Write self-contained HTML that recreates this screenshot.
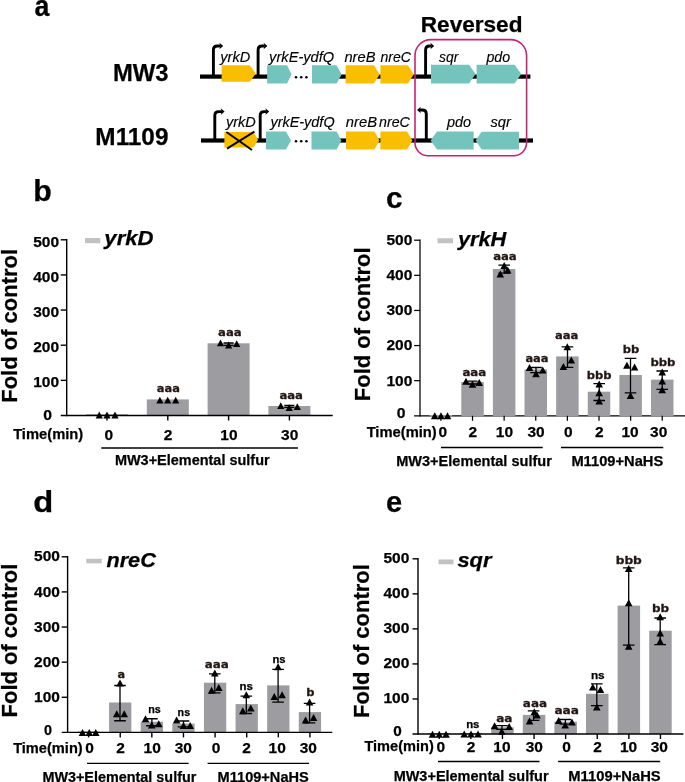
<!DOCTYPE html>
<html lang="en"><head><meta charset="utf-8"><title>Figure</title>
<style>
html,body{margin:0;padding:0;background:#fff;}
body{width:685px;height:782px;overflow:hidden;}
svg{display:block;}
text{font-family:"Liberation Sans", sans-serif;white-space:pre;}
.b{font-weight:bold;stroke:#000;stroke-width:0.25px;}
.i{font-style:italic;font-weight:normal;stroke:#000;stroke-width:0.15px;}
.bi{font-weight:bold;font-style:italic;stroke:#000;stroke-width:0.25px;}
.an{font-family:"DejaVu Sans", "Liberation Sans", sans-serif;font-weight:bold;stroke:#231815;stroke-width:0.3px;}
</style></head><body>
<svg width="685" height="782" viewBox="0 0 685 782">
<rect width="685" height="782" fill="#fff"/>
<rect x="200" y="74.5" width="70" height="4.2" fill="#000"/>
<rect x="330" y="74.5" width="200.4" height="4.2" fill="#000"/>
<path d="M213.4,75 L213.4,50.0 Q213.4,46 217.4,46 L220.6,46" fill="none" stroke="#000" stroke-width="2.9"/>
<polygon points="223.2,46 219.4,42.7 220.4,46 219.4,49.3" fill="#000"/>
<path d="M258.1,75 L258.1,50.0 Q258.1,46 262.1,46 L264.8,46" fill="none" stroke="#000" stroke-width="2.9"/>
<polygon points="267.4,46 263.6,42.7 264.6,46 263.6,49.3" fill="#000"/>
<path d="M425.6,75 L425.6,50.0 Q425.6,46 429.6,46 L431.6,46" fill="none" stroke="#000" stroke-width="2.9"/>
<polygon points="434.2,46 430.4,42.7 431.4,46 430.4,49.3" fill="#000"/>
<polygon points="221.6,65.2 249.8,65.2 255.8,73.5 249.8,81.8 221.6,81.8" fill="#FABE00"/>
<polygon points="267.1,65.2 287,65.2 291.6,74.4 287,83.6 267.1,83.6" fill="#73C4BC"/>
<polygon points="312,65.2 336.6,65.2 341.6,74.4 336.6,83.6 312,83.6" fill="#73C4BC"/>
<polygon points="345.6,65.2 374,65.2 379.6,74.4 374,83.6 345.6,83.6" fill="#FABE00"/>
<polygon points="380.4,65.2 408,65.2 413.6,74.4 408,83.6 380.4,83.6" fill="#FABE00"/>
<polygon points="431,64.8 469,64.8 475.6,74.1 469,83.4 431,83.4" fill="#73C4BC"/>
<polygon points="476.6,64.8 514.6,64.8 521.2,74.1 514.6,83.4 476.6,83.4" fill="#73C4BC"/>
<circle cx="296" cy="77.2" r="1.25" fill="#000"/>
<circle cx="301.2" cy="77.2" r="1.25" fill="#000"/>
<circle cx="306.4" cy="77.2" r="1.25" fill="#000"/>
<rect x="201" y="138.4" width="68" height="4.2" fill="#000"/>
<rect x="330" y="138.4" width="203" height="4.2" fill="#000"/>
<path d="M214.8,139 L214.8,115.6 Q214.8,111.6 218.8,111.6 L222.0,111.6" fill="none" stroke="#000" stroke-width="2.9"/>
<polygon points="224.6,111.6 220.8,108.3 221.8,111.6 220.8,114.89999999999999" fill="#000"/>
<path d="M260.2,139 L260.2,115.6 Q260.2,111.6 264.2,111.6 L266.6,111.6" fill="none" stroke="#000" stroke-width="2.9"/>
<polygon points="269.2,111.6 265.4,108.3 266.4,111.6 265.4,114.89999999999999" fill="#000"/>
<path d="M426.3,139 L426.3,114.0 Q426.3,110 422.3,110 L419.6,110" fill="none" stroke="#000" stroke-width="2.9"/>
<polygon points="417,110 420.8,106.7 419.8,110 420.8,113.3" fill="#000"/>
<polygon points="224.4,132 253.6,132 258,139.7 253.6,147.4 224.4,147.4" fill="#FABE00"/>
<polygon points="266,131.6 286,131.6 291,140.5 286,149.4 266,149.4" fill="#73C4BC"/>
<polygon points="311.5,131.6 336.6,131.6 341.4,140.5 336.6,149.4 311.5,149.4" fill="#73C4BC"/>
<polygon points="346,131.6 374.4,131.6 379.6,140.5 374.4,149.4 346,149.4" fill="#FABE00"/>
<polygon points="380.4,131.6 407,131.6 412.4,140.5 407,149.4 380.4,149.4" fill="#FABE00"/>
<polygon points="473.6,131.6 437,131.6 430.6,140.5 437,149.4 473.6,149.4" fill="#73C4BC"/>
<polygon points="519,131.8 481.6,131.8 475.6,140.60000000000002 481.6,149.4 519,149.4" fill="#73C4BC"/>
<circle cx="296" cy="141.2" r="1.25" fill="#000"/>
<circle cx="301.2" cy="141.2" r="1.25" fill="#000"/>
<circle cx="306.4" cy="141.2" r="1.25" fill="#000"/>
<path d="M226.4,132 L252,150 M254.4,131.6 L227,148.6" stroke="#000" stroke-width="1.9" fill="none"/>
<path d="M415,55.6 A16,16 0 0 1 431,39.6 H510.6 A16,16 0 0 1 526.6,55.6 V142.8 A13,13 0 0 1 513.6,155.8 H428 A13,13 0 0 1 415,142.8 Z" fill="none" stroke="#C32373" stroke-width="1.6"/>
<rect x="86.00" y="414.30" width="42.00" height="1.20" fill="#9D9DA1"/>
<rect x="146.80" y="399.40" width="42.00" height="16.10" fill="#9D9DA1"/>
<rect x="207.60" y="343.30" width="42.00" height="72.20" fill="#9D9DA1"/>
<rect x="268.40" y="406.00" width="42.00" height="9.50" fill="#9D9DA1"/>
<path d="M66.7,239.0 V416.2" stroke="#000" stroke-width="1.4" fill="none"/>
<path d="M60.75,415.5 H332.7" stroke="#000" stroke-width="1.4" fill="none"/>
<path d="M60.75,239.80 H66.7" stroke="#000" stroke-width="1.4" fill="none"/>
<path d="M60.75,274.94 H66.7" stroke="#000" stroke-width="1.4" fill="none"/>
<path d="M60.75,310.08 H66.7" stroke="#000" stroke-width="1.4" fill="none"/>
<path d="M60.75,345.22 H66.7" stroke="#000" stroke-width="1.4" fill="none"/>
<path d="M60.75,380.36 H66.7" stroke="#000" stroke-width="1.4" fill="none"/>
<path d="M107.00,415.5 V420.5" stroke="#000" stroke-width="1.4" fill="none"/>
<path d="M167.80,415.5 V420.5" stroke="#000" stroke-width="1.4" fill="none"/>
<path d="M228.60,415.5 V420.5" stroke="#000" stroke-width="1.4" fill="none"/>
<path d="M289.40,415.5 V420.5" stroke="#000" stroke-width="1.4" fill="none"/>
<path d="M101.25,448 H297.9" stroke="#000" stroke-width="1.3" fill="none"/>
<rect x="85" y="238" width="15.3" height="5.2" fill="#C2C2C2"/>
<polygon points="95.65,418.40 102.85,418.40 99.25,411.60" fill="#000"/>
<polygon points="103.40,418.40 110.60,418.40 107.00,411.60" fill="#000"/>
<polygon points="111.40,418.40 118.60,418.40 115.00,411.60" fill="#000"/>
<polygon points="156.30,403.60 163.50,403.60 159.90,396.80" fill="#000"/>
<polygon points="164.10,403.60 171.30,403.60 167.70,396.80" fill="#000"/>
<polygon points="172.10,403.60 179.30,403.60 175.70,396.80" fill="#000"/>
<path d="M223.60,343.00 H233.60 M223.60,345.40 H233.60" stroke="#000" stroke-width="1.3" fill="none"/>
<polygon points="216.90,346.20 224.10,346.20 220.50,339.40" fill="#000"/>
<polygon points="225.00,348.40 232.20,348.40 228.60,341.60" fill="#000"/>
<polygon points="233.10,347.00 240.30,347.00 236.70,340.20" fill="#000"/>
<path d="M284.30,405.40 H294.30 M284.30,407.40 H294.30" stroke="#000" stroke-width="1.3" fill="none"/>
<polygon points="277.20,409.00 284.40,409.00 280.80,402.20" fill="#000"/>
<polygon points="285.60,411.00 292.80,411.00 289.20,404.20" fill="#000"/>
<polygon points="293.70,410.00 300.90,410.00 297.30,403.20" fill="#000"/>
<path d="M420.0,239.39999999999998 V416.425" stroke="#000" stroke-width="1.25" fill="none"/>
<path d="M414.1,415.8 H685" stroke="#000" stroke-width="1.25" fill="none"/>
<rect x="429.65" y="415.00" width="22.50" height="1.43" fill="#9D9DA1"/>
<rect x="461.27" y="382.00" width="22.50" height="34.43" fill="#9D9DA1"/>
<rect x="492.89" y="269.00" width="22.50" height="147.43" fill="#9D9DA1"/>
<rect x="524.51" y="369.50" width="22.50" height="46.93" fill="#9D9DA1"/>
<rect x="556.13" y="356.40" width="22.50" height="60.03" fill="#9D9DA1"/>
<rect x="587.75" y="391.70" width="22.50" height="24.73" fill="#9D9DA1"/>
<rect x="619.37" y="375.00" width="22.50" height="41.43" fill="#9D9DA1"/>
<rect x="650.99" y="379.60" width="22.50" height="36.82" fill="#9D9DA1"/>
<path d="M414.1,240.20 H420.0" stroke="#000" stroke-width="1.25" fill="none"/>
<path d="M414.1,275.32 H420.0" stroke="#000" stroke-width="1.25" fill="none"/>
<path d="M414.1,310.44 H420.0" stroke="#000" stroke-width="1.25" fill="none"/>
<path d="M414.1,345.56 H420.0" stroke="#000" stroke-width="1.25" fill="none"/>
<path d="M414.1,380.68 H420.0" stroke="#000" stroke-width="1.25" fill="none"/>
<path d="M440.90,415.8 V420.8" stroke="#000" stroke-width="1.25" fill="none"/>
<path d="M472.52,415.8 V420.8" stroke="#000" stroke-width="1.25" fill="none"/>
<path d="M504.14,415.8 V420.8" stroke="#000" stroke-width="1.25" fill="none"/>
<path d="M535.76,415.8 V420.8" stroke="#000" stroke-width="1.25" fill="none"/>
<path d="M567.38,415.8 V420.8" stroke="#000" stroke-width="1.25" fill="none"/>
<path d="M599.00,415.8 V420.8" stroke="#000" stroke-width="1.25" fill="none"/>
<path d="M630.62,415.8 V420.8" stroke="#000" stroke-width="1.25" fill="none"/>
<path d="M662.24,415.8 V420.8" stroke="#000" stroke-width="1.25" fill="none"/>
<path d="M441,447.5 H542.75" stroke="#000" stroke-width="1.3" fill="none"/>
<path d="M561,447.5 H663.25" stroke="#000" stroke-width="1.3" fill="none"/>
<rect x="437.5" y="238.25" width="15.5" height="5" fill="#C2C2C2"/>
<polygon points="430.95,419.20 438.55,419.20 434.75,412.20" fill="#000"/>
<polygon points="437.20,419.20 444.80,419.20 441.00,412.20" fill="#000"/>
<polygon points="443.70,419.20 451.30,419.20 447.50,412.20" fill="#000"/>
<path d="M467.60,381.20 H477.60 M467.60,384.00 H477.60" stroke="#000" stroke-width="1.3" fill="none"/>
<polygon points="462.20,384.70 469.80,384.70 466.00,377.70" fill="#000"/>
<polygon points="468.70,387.70 476.30,387.70 472.50,380.70" fill="#000"/>
<polygon points="475.45,386.10 483.05,386.10 479.25,379.10" fill="#000"/>
<path d="M498.40,265.20 H510.00 M498.40,273.10 H510.00 M504.20,265.20 V273.10" stroke="#000" stroke-width="1.3" fill="none"/>
<polygon points="500.40,269.10 508.00,269.10 504.20,262.10" fill="#000"/>
<polygon points="496.50,277.40 504.10,277.40 500.30,270.40" fill="#000"/>
<polygon points="503.90,273.50 511.50,273.50 507.70,266.50" fill="#000"/>
<path d="M530.20,367.50 H541.80 M530.20,372.60 H541.80 M536.00,367.50 V372.60" stroke="#000" stroke-width="1.3" fill="none"/>
<polygon points="525.70,371.00 533.30,371.00 529.50,364.00" fill="#000"/>
<polygon points="532.20,377.25 539.80,377.25 536.00,370.25" fill="#000"/>
<polygon points="538.95,373.50 546.55,373.50 542.75,366.50" fill="#000"/>
<path d="M561.70,346.90 H573.30 M561.70,367.40 H573.30 M567.50,346.90 V367.40" stroke="#000" stroke-width="1.3" fill="none"/>
<polygon points="563.50,350.20 571.10,350.20 567.30,343.20" fill="#000"/>
<polygon points="559.60,369.90 567.20,369.90 563.40,362.90" fill="#000"/>
<polygon points="567.50,363.60 575.10,363.60 571.30,356.60" fill="#000"/>
<path d="M593.40,383.60 H605.00 M593.40,400.50 H605.00 M599.20,383.60 V400.50" stroke="#000" stroke-width="1.3" fill="none"/>
<polygon points="595.40,387.50 603.00,387.50 599.20,380.50" fill="#000"/>
<polygon points="595.40,396.30 603.00,396.30 599.20,389.30" fill="#000"/>
<polygon points="595.40,404.50 603.00,404.50 599.20,397.50" fill="#000"/>
<path d="M624.70,358.40 H636.30 M624.70,392.80 H636.30 M630.50,358.40 V392.80" stroke="#000" stroke-width="1.3" fill="none"/>
<polygon points="623.10,368.70 630.70,368.70 626.90,361.70" fill="#000"/>
<polygon points="630.80,370.40 638.40,370.40 634.60,363.40" fill="#000"/>
<polygon points="626.70,399.00 634.30,399.00 630.50,392.00" fill="#000"/>
<path d="M656.40,371.00 H668.00 M656.40,389.40 H668.00 M662.20,371.00 V389.40" stroke="#000" stroke-width="1.3" fill="none"/>
<polygon points="658.40,375.50 666.00,375.50 662.20,368.50" fill="#000"/>
<polygon points="658.40,384.50 666.00,384.50 662.20,377.50" fill="#000"/>
<polygon points="658.40,393.30 666.00,393.30 662.20,386.30" fill="#000"/>
<rect x="77.45" y="731.50" width="22.30" height="0.90" fill="#9D9DA1"/>
<rect x="109.07" y="702.50" width="22.30" height="29.90" fill="#9D9DA1"/>
<rect x="140.69" y="721.75" width="22.30" height="10.65" fill="#9D9DA1"/>
<rect x="172.31" y="723.60" width="22.30" height="8.80" fill="#9D9DA1"/>
<rect x="203.93" y="682.70" width="22.30" height="49.70" fill="#9D9DA1"/>
<rect x="235.55" y="704.10" width="22.30" height="28.30" fill="#9D9DA1"/>
<rect x="267.17" y="685.40" width="22.30" height="47.00" fill="#9D9DA1"/>
<rect x="298.79" y="712.10" width="22.30" height="20.30" fill="#9D9DA1"/>
<path d="M67.6,556.0 V733.1" stroke="#000" stroke-width="1.4" fill="none"/>
<path d="M61.7,732.4 H332.3" stroke="#000" stroke-width="1.4" fill="none"/>
<path d="M61.7,556.80 H67.6" stroke="#000" stroke-width="1.4" fill="none"/>
<path d="M61.7,591.92 H67.6" stroke="#000" stroke-width="1.4" fill="none"/>
<path d="M61.7,627.04 H67.6" stroke="#000" stroke-width="1.4" fill="none"/>
<path d="M61.7,662.16 H67.6" stroke="#000" stroke-width="1.4" fill="none"/>
<path d="M61.7,697.28 H67.6" stroke="#000" stroke-width="1.4" fill="none"/>
<path d="M88.60,732.4 V737.4" stroke="#000" stroke-width="1.4" fill="none"/>
<path d="M120.22,732.4 V737.4" stroke="#000" stroke-width="1.4" fill="none"/>
<path d="M151.84,732.4 V737.4" stroke="#000" stroke-width="1.4" fill="none"/>
<path d="M183.46,732.4 V737.4" stroke="#000" stroke-width="1.4" fill="none"/>
<path d="M215.08,732.4 V737.4" stroke="#000" stroke-width="1.4" fill="none"/>
<path d="M246.70,732.4 V737.4" stroke="#000" stroke-width="1.4" fill="none"/>
<path d="M278.32,732.4 V737.4" stroke="#000" stroke-width="1.4" fill="none"/>
<path d="M309.94,732.4 V737.4" stroke="#000" stroke-width="1.4" fill="none"/>
<path d="M87,763.3 H188.6" stroke="#000" stroke-width="1.3" fill="none"/>
<path d="M207.6,763.3 H309.1" stroke="#000" stroke-width="1.3" fill="none"/>
<rect x="86.25" y="558.75" width="15.5" height="4.6" fill="#C2C2C2"/>
<polygon points="78.70,735.90 86.30,735.90 82.50,728.90" fill="#000"/>
<polygon points="85.45,735.90 93.05,735.90 89.25,728.90" fill="#000"/>
<polygon points="91.95,735.90 99.55,735.90 95.75,728.90" fill="#000"/>
<path d="M114.20,685.50 H125.80 M114.20,720.75 H125.80 M120.00,685.50 V720.75" stroke="#000" stroke-width="1.3" fill="none"/>
<polygon points="116.20,686.50 123.80,686.50 120.00,679.50" fill="#000"/>
<polygon points="112.95,717.25 120.55,717.25 116.75,710.25" fill="#000"/>
<polygon points="120.45,717.25 128.05,717.25 124.25,710.25" fill="#000"/>
<path d="M146.10,718.75 H157.70 M146.10,725.75 H157.70 M151.90,718.75 V725.75" stroke="#000" stroke-width="1.3" fill="none"/>
<polygon points="141.70,722.25 149.30,722.25 145.50,715.25" fill="#000"/>
<polygon points="147.95,728.50 155.55,728.50 151.75,721.50" fill="#000"/>
<polygon points="154.95,727.25 162.55,727.25 158.75,720.25" fill="#000"/>
<path d="M177.70,721.00 H189.30 M177.70,726.80 H189.30 M183.50,721.00 V726.80" stroke="#000" stroke-width="1.3" fill="none"/>
<polygon points="172.80,723.60 180.40,723.60 176.60,716.60" fill="#000"/>
<polygon points="179.70,729.00 187.30,729.00 183.50,722.00" fill="#000"/>
<polygon points="186.40,729.00 194.00,729.00 190.20,722.00" fill="#000"/>
<path d="M209.00,673.90 H220.60 M209.00,692.90 H220.60 M214.80,673.90 V692.90" stroke="#000" stroke-width="1.3" fill="none"/>
<polygon points="211.00,676.40 218.60,676.40 214.80,669.40" fill="#000"/>
<polygon points="207.80,693.70 215.40,693.70 211.60,686.70" fill="#000"/>
<polygon points="215.00,691.10 222.60,691.10 218.80,684.10" fill="#000"/>
<path d="M240.50,696.10 H252.10 M240.50,713.50 H252.10 M246.30,696.10 V713.50" stroke="#000" stroke-width="1.3" fill="none"/>
<polygon points="242.50,698.30 250.10,698.30 246.30,691.30" fill="#000"/>
<polygon points="239.00,714.30 246.60,714.30 242.80,707.30" fill="#000"/>
<polygon points="247.00,711.60 254.60,711.60 250.80,704.60" fill="#000"/>
<path d="M272.30,669.40 H283.90 M272.30,702.20 H283.90 M278.10,669.40 V702.20" stroke="#000" stroke-width="1.3" fill="none"/>
<polygon points="274.30,670.20 281.90,670.20 278.10,663.20" fill="#000"/>
<polygon points="270.50,700.10 278.10,700.10 274.30,693.10" fill="#000"/>
<polygon points="278.30,698.30 285.90,698.30 282.10,691.30" fill="#000"/>
<path d="M303.80,703.30 H315.40 M303.80,722.80 H315.40 M309.60,703.30 V722.80" stroke="#000" stroke-width="1.3" fill="none"/>
<polygon points="305.80,705.50 313.40,705.50 309.60,698.50" fill="#000"/>
<polygon points="301.80,723.60 309.40,723.60 305.60,716.60" fill="#000"/>
<polygon points="309.80,721.00 317.40,721.00 313.60,714.00" fill="#000"/>
<rect x="428.00" y="733.00" width="22.50" height="1.00" fill="#9D9DA1"/>
<rect x="459.60" y="733.00" width="22.50" height="1.00" fill="#9D9DA1"/>
<rect x="491.20" y="727.30" width="22.50" height="6.70" fill="#9D9DA1"/>
<rect x="522.80" y="714.90" width="22.50" height="19.10" fill="#9D9DA1"/>
<rect x="554.40" y="721.70" width="22.50" height="12.30" fill="#9D9DA1"/>
<rect x="586.00" y="693.80" width="22.50" height="40.20" fill="#9D9DA1"/>
<rect x="617.60" y="605.60" width="22.50" height="128.40" fill="#9D9DA1"/>
<rect x="649.20" y="630.70" width="22.50" height="103.30" fill="#9D9DA1"/>
<path d="M418.0,558.0 V734.7" stroke="#000" stroke-width="1.4" fill="none"/>
<path d="M412.5,734 H683.4" stroke="#000" stroke-width="1.4" fill="none"/>
<path d="M412.5,558.80 H418.0" stroke="#000" stroke-width="1.4" fill="none"/>
<path d="M412.5,593.84 H418.0" stroke="#000" stroke-width="1.4" fill="none"/>
<path d="M412.5,628.88 H418.0" stroke="#000" stroke-width="1.4" fill="none"/>
<path d="M412.5,663.92 H418.0" stroke="#000" stroke-width="1.4" fill="none"/>
<path d="M412.5,698.96 H418.0" stroke="#000" stroke-width="1.4" fill="none"/>
<path d="M439.25,734 V739" stroke="#000" stroke-width="1.4" fill="none"/>
<path d="M470.85,734 V739" stroke="#000" stroke-width="1.4" fill="none"/>
<path d="M502.45,734 V739" stroke="#000" stroke-width="1.4" fill="none"/>
<path d="M534.05,734 V739" stroke="#000" stroke-width="1.4" fill="none"/>
<path d="M565.65,734 V739" stroke="#000" stroke-width="1.4" fill="none"/>
<path d="M597.25,734 V739" stroke="#000" stroke-width="1.4" fill="none"/>
<path d="M628.85,734 V739" stroke="#000" stroke-width="1.4" fill="none"/>
<path d="M660.45,734 V739" stroke="#000" stroke-width="1.4" fill="none"/>
<path d="M438,761.5 H539.5" stroke="#000" stroke-width="1.3" fill="none"/>
<path d="M558.1,761.5 H660.2" stroke="#000" stroke-width="1.3" fill="none"/>
<rect x="438.5" y="559.5" width="15" height="4.8" fill="#C2C2C2"/>
<polygon points="428.70,737.80 436.30,737.80 432.50,730.80" fill="#000"/>
<polygon points="435.45,737.80 443.05,737.80 439.25,730.80" fill="#000"/>
<polygon points="442.20,737.80 449.80,737.80 446.00,730.80" fill="#000"/>
<polygon points="460.45,737.50 468.05,737.50 464.25,730.50" fill="#000"/>
<polygon points="467.20,737.50 474.80,737.50 471.00,730.50" fill="#000"/>
<polygon points="474.20,737.50 481.80,737.50 478.00,730.50" fill="#000"/>
<path d="M496.20,725.70 H507.80 M496.20,729.40 H507.80 M502.00,725.70 V729.40" stroke="#000" stroke-width="1.3" fill="none"/>
<polygon points="490.80,729.20 498.40,729.20 494.60,722.20" fill="#000"/>
<polygon points="498.00,734.80 505.60,734.80 501.80,727.80" fill="#000"/>
<polygon points="505.40,730.10 513.00,730.10 509.20,723.10" fill="#000"/>
<path d="M527.80,710.80 H539.40 M527.80,720.40 H539.40 M533.60,710.80 V720.40" stroke="#000" stroke-width="1.3" fill="none"/>
<polygon points="525.80,724.50 533.40,724.50 529.60,717.50" fill="#000"/>
<polygon points="530.50,715.30 538.10,715.30 534.30,708.30" fill="#000"/>
<polygon points="533.20,718.40 540.80,718.40 537.00,711.40" fill="#000"/>
<path d="M559.60,719.50 H571.20 M559.60,724.20 H571.20 M565.40,719.50 V724.20" stroke="#000" stroke-width="1.3" fill="none"/>
<polygon points="554.90,723.90 562.50,723.90 558.70,716.90" fill="#000"/>
<polygon points="561.40,728.60 569.00,728.60 565.20,721.60" fill="#000"/>
<polygon points="568.20,725.50 575.80,725.50 572.00,718.50" fill="#000"/>
<path d="M591.00,683.90 H602.60 M591.00,705.60 H602.60 M596.80,683.90 V705.60" stroke="#000" stroke-width="1.3" fill="none"/>
<polygon points="589.00,690.50 596.60,690.50 592.80,683.50" fill="#000"/>
<polygon points="596.70,693.00 604.30,693.00 600.50,686.00" fill="#000"/>
<polygon points="593.00,710.60 600.60,710.60 596.80,703.60" fill="#000"/>
<path d="M622.90,567.90 H634.50 M622.90,645.20 H634.50 M628.70,567.90 V645.20" stroke="#000" stroke-width="1.3" fill="none"/>
<polygon points="624.90,572.00 632.50,572.00 628.70,565.00" fill="#000"/>
<polygon points="624.90,606.30 632.50,606.30 628.70,599.30" fill="#000"/>
<polygon points="624.90,649.70 632.50,649.70 628.70,642.70" fill="#000"/>
<path d="M654.40,618.00 H666.00 M654.40,644.60 H666.00 M660.20,618.00 V644.60" stroke="#000" stroke-width="1.3" fill="none"/>
<polygon points="656.40,620.30 664.00,620.30 660.20,613.30" fill="#000"/>
<polygon points="656.40,636.40 664.00,636.40 660.20,629.40" fill="#000"/>
<polygon points="656.40,644.70 664.00,644.70 660.20,637.70" fill="#000"/>
<g id="labels" style="mix-blend-mode:multiply">
<text class="b" x="34.40" y="15.60" font-size="29" textLength="14.90" lengthAdjust="spacingAndGlyphs" fill="#000">a</text>
<text class="b" x="112.91" y="80.60" font-size="24" textLength="55.54" lengthAdjust="spacingAndGlyphs" fill="#000">MW3</text>
<text class="b" x="95.39" y="145.40" font-size="24" textLength="73.07" lengthAdjust="spacingAndGlyphs" fill="#000">M1109</text>
<text class="b" x="420.77" y="32.00" font-size="22" textLength="101.70" lengthAdjust="spacingAndGlyphs" fill="#000">Reversed</text>
<text class="i" x="220.33" y="61.80" font-size="14.2" textLength="29.93" lengthAdjust="spacingAndGlyphs" fill="#000">yrkD</text>
<text class="i" x="269.13" y="61.80" font-size="14.2" textLength="65.10" lengthAdjust="spacingAndGlyphs" fill="#000">yrkE-ydfQ</text>
<text class="i" x="344.40" y="61.80" font-size="14.2" textLength="31.08" lengthAdjust="spacingAndGlyphs" fill="#000">nreB</text>
<text class="i" x="380.40" y="61.80" font-size="14.2" textLength="30.45" lengthAdjust="spacingAndGlyphs" fill="#000">nreC</text>
<text class="i" x="439.00" y="61.80" font-size="14.2" textLength="19.35" lengthAdjust="spacingAndGlyphs" fill="#000">sqr</text>
<text class="i" x="486.40" y="61.80" font-size="14.2" textLength="23.69" lengthAdjust="spacingAndGlyphs" fill="#000">pdo</text>
<text class="i" x="226.02" y="126.50" font-size="14.2" textLength="29.83" lengthAdjust="spacingAndGlyphs" fill="#000">yrkD</text>
<text class="i" x="270.42" y="126.50" font-size="14.2" textLength="64.22" lengthAdjust="spacingAndGlyphs" fill="#000">yrkE-ydfQ</text>
<text class="i" x="345.80" y="126.50" font-size="14.2" textLength="31.28" lengthAdjust="spacingAndGlyphs" fill="#000">nreB</text>
<text class="i" x="379.00" y="126.50" font-size="14.2" textLength="30.84" lengthAdjust="spacingAndGlyphs" fill="#000">nreC</text>
<text class="i" x="447.02" y="126.50" font-size="14.2" textLength="24.07" lengthAdjust="spacingAndGlyphs" fill="#000">pdo</text>
<text class="i" x="490.40" y="126.50" font-size="14.2" textLength="20.47" lengthAdjust="spacingAndGlyphs" fill="#000">sqr</text>
<text class="b" x="33.20" y="246.50" font-size="14.5" textLength="25.87" lengthAdjust="spacingAndGlyphs" fill="#000">500</text>
<text class="b" x="33.20" y="281.64" font-size="14.5" textLength="25.87" lengthAdjust="spacingAndGlyphs" fill="#000">400</text>
<text class="b" x="33.20" y="316.78" font-size="14.5" textLength="25.87" lengthAdjust="spacingAndGlyphs" fill="#000">300</text>
<text class="b" x="33.20" y="351.92" font-size="14.5" textLength="25.87" lengthAdjust="spacingAndGlyphs" fill="#000">200</text>
<text class="b" x="33.20" y="387.06" font-size="14.5" textLength="25.87" lengthAdjust="spacingAndGlyphs" fill="#000">100</text>
<text class="b" x="43.15" y="419.95" font-size="14.5" textLength="8.77" lengthAdjust="spacingAndGlyphs" fill="#000">0</text>
<text class="b" x="104.60" y="440.20" font-size="15.5" textLength="8.62" lengthAdjust="spacingAndGlyphs" fill="#000">0</text>
<text class="b" x="163.80" y="440.20" font-size="15.5" textLength="8.62" lengthAdjust="spacingAndGlyphs" fill="#000">2</text>
<text class="b" x="220.29" y="440.20" font-size="15.5" textLength="17.24" lengthAdjust="spacingAndGlyphs" fill="#000">10</text>
<text class="b" x="281.09" y="440.20" font-size="15.5" textLength="17.24" lengthAdjust="spacingAndGlyphs" fill="#000">30</text>
<text class="b" x="13.15" y="439.25" font-size="15.5" textLength="70.10" lengthAdjust="spacingAndGlyphs" fill="#000">Time(min)</text>
<text class="b" x="114.90" y="464.50" font-size="14.8" textLength="154.76" lengthAdjust="spacingAndGlyphs" fill="#000">MW3+Elemental sulfur</text>
<g transform="translate(17.4,401.2) rotate(-90)"><text class="b" x="-1.59" y="0.00" font-size="22.2" textLength="153.84" lengthAdjust="spacingAndGlyphs" fill="#000">Fold of control</text></g>
<text class="b" x="33.36" y="201.40" font-size="29" textLength="18.49" lengthAdjust="spacingAndGlyphs" fill="#000">b</text>
<text class="bi" x="104.37" y="244.60" font-size="20.8" textLength="49.25" lengthAdjust="spacingAndGlyphs" fill="#000">yrkD</text>
<text class="an" x="156.80" y="392.10" font-size="10.6" textLength="23.06" lengthAdjust="spacingAndGlyphs" fill="#231815">aaa</text>
<text class="an" x="218.10" y="335.90" font-size="10.6" textLength="23.56" lengthAdjust="spacingAndGlyphs" fill="#231815">aaa</text>
<text class="an" x="279.40" y="399.30" font-size="10.6" textLength="23.56" lengthAdjust="spacingAndGlyphs" fill="#231815">aaa</text>
<text class="b" x="386.50" y="245.10" font-size="14.5" textLength="25.87" lengthAdjust="spacingAndGlyphs" fill="#000">500</text>
<text class="b" x="386.50" y="280.22" font-size="14.5" textLength="25.87" lengthAdjust="spacingAndGlyphs" fill="#000">400</text>
<text class="b" x="386.50" y="315.34" font-size="14.5" textLength="25.87" lengthAdjust="spacingAndGlyphs" fill="#000">300</text>
<text class="b" x="386.50" y="350.46" font-size="14.5" textLength="25.87" lengthAdjust="spacingAndGlyphs" fill="#000">200</text>
<text class="b" x="386.50" y="385.58" font-size="14.5" textLength="25.87" lengthAdjust="spacingAndGlyphs" fill="#000">100</text>
<text class="b" x="396.70" y="417.95" font-size="14.5" textLength="8.77" lengthAdjust="spacingAndGlyphs" fill="#000">0</text>
<text class="b" x="438.60" y="437.40" font-size="15.5" textLength="8.62" lengthAdjust="spacingAndGlyphs" fill="#000">0</text>
<text class="b" x="468.52" y="437.40" font-size="15.5" textLength="8.62" lengthAdjust="spacingAndGlyphs" fill="#000">2</text>
<text class="b" x="495.83" y="437.40" font-size="15.5" textLength="17.24" lengthAdjust="spacingAndGlyphs" fill="#000">10</text>
<text class="b" x="527.45" y="437.40" font-size="15.5" textLength="17.24" lengthAdjust="spacingAndGlyphs" fill="#000">30</text>
<text class="b" x="563.98" y="437.40" font-size="15.5" textLength="8.62" lengthAdjust="spacingAndGlyphs" fill="#000">0</text>
<text class="b" x="595.00" y="437.40" font-size="15.5" textLength="8.62" lengthAdjust="spacingAndGlyphs" fill="#000">2</text>
<text class="b" x="621.51" y="437.40" font-size="15.5" textLength="17.24" lengthAdjust="spacingAndGlyphs" fill="#000">10</text>
<text class="b" x="650.03" y="437.40" font-size="15.5" textLength="17.24" lengthAdjust="spacingAndGlyphs" fill="#000">30</text>
<text class="b" x="366.65" y="437.00" font-size="15.5" textLength="70.10" lengthAdjust="spacingAndGlyphs" fill="#000">Time(min)</text>
<text class="b" x="396.15" y="465.80" font-size="14.8" textLength="155.71" lengthAdjust="spacingAndGlyphs" fill="#000">MW3+Elemental sulfur</text>
<text class="b" x="571.40" y="465.80" font-size="14.8" textLength="91.82" lengthAdjust="spacingAndGlyphs" fill="#000">M1109+NaHS</text>
<g transform="translate(370,399.65) rotate(-90)"><text class="b" x="-1.59" y="0.00" font-size="22.2" textLength="153.84" lengthAdjust="spacingAndGlyphs" fill="#000">Fold of control</text></g>
<text class="b" x="385.97" y="208.30" font-size="29" textLength="16.56" lengthAdjust="spacingAndGlyphs" fill="#000">c</text>
<text class="bi" x="457.95" y="246.05" font-size="20.8" textLength="48.38" lengthAdjust="spacingAndGlyphs" fill="#000">yrkH</text>
<text class="an" x="462.40" y="376.25" font-size="10.6" textLength="23.87" lengthAdjust="spacingAndGlyphs" fill="#231815">aaa</text>
<text class="an" x="493.15" y="260.10" font-size="10.6" textLength="23.61" lengthAdjust="spacingAndGlyphs" fill="#231815">aaa</text>
<text class="an" x="525.40" y="361.75" font-size="10.6" textLength="23.11" lengthAdjust="spacingAndGlyphs" fill="#231815">aaa</text>
<text class="an" x="554.90" y="338.80" font-size="10.6" textLength="23.36" lengthAdjust="spacingAndGlyphs" fill="#231815">aaa</text>
<text class="an" x="586.70" y="378.70" font-size="10.6" textLength="24.75" lengthAdjust="spacingAndGlyphs" fill="#231815">bbb</text>
<text class="an" x="622.70" y="353.40" font-size="10.6" textLength="16.45" lengthAdjust="spacingAndGlyphs" fill="#231815">bb</text>
<text class="an" x="650.40" y="366.25" font-size="10.6" textLength="24.99" lengthAdjust="spacingAndGlyphs" fill="#231815">bbb</text>
<text class="b" x="34.10" y="561.40" font-size="14.5" textLength="25.87" lengthAdjust="spacingAndGlyphs" fill="#000">500</text>
<text class="b" x="34.10" y="596.52" font-size="14.5" textLength="25.87" lengthAdjust="spacingAndGlyphs" fill="#000">400</text>
<text class="b" x="34.10" y="631.64" font-size="14.5" textLength="25.87" lengthAdjust="spacingAndGlyphs" fill="#000">300</text>
<text class="b" x="34.10" y="666.76" font-size="14.5" textLength="25.87" lengthAdjust="spacingAndGlyphs" fill="#000">200</text>
<text class="b" x="34.10" y="701.88" font-size="14.5" textLength="25.87" lengthAdjust="spacingAndGlyphs" fill="#000">100</text>
<text class="b" x="43.90" y="734.95" font-size="14.5" textLength="8.01" lengthAdjust="spacingAndGlyphs" fill="#000">0</text>
<text class="b" x="85.20" y="753.10" font-size="15.5" textLength="8.62" lengthAdjust="spacingAndGlyphs" fill="#000">0</text>
<text class="b" x="116.22" y="753.10" font-size="15.5" textLength="8.62" lengthAdjust="spacingAndGlyphs" fill="#000">2</text>
<text class="b" x="143.53" y="753.10" font-size="15.5" textLength="17.24" lengthAdjust="spacingAndGlyphs" fill="#000">10</text>
<text class="b" x="174.65" y="753.10" font-size="15.5" textLength="17.24" lengthAdjust="spacingAndGlyphs" fill="#000">30</text>
<text class="b" x="211.68" y="753.10" font-size="15.5" textLength="8.62" lengthAdjust="spacingAndGlyphs" fill="#000">0</text>
<text class="b" x="242.20" y="753.10" font-size="15.5" textLength="8.62" lengthAdjust="spacingAndGlyphs" fill="#000">2</text>
<text class="b" x="268.61" y="753.10" font-size="15.5" textLength="17.24" lengthAdjust="spacingAndGlyphs" fill="#000">10</text>
<text class="b" x="299.63" y="753.10" font-size="15.5" textLength="17.24" lengthAdjust="spacingAndGlyphs" fill="#000">30</text>
<text class="b" x="13.15" y="753.25" font-size="15.5" textLength="69.60" lengthAdjust="spacingAndGlyphs" fill="#000">Time(min)</text>
<text class="b" x="42.40" y="782.10" font-size="14.8" textLength="153.96" lengthAdjust="spacingAndGlyphs" fill="#000">MW3+Elemental sulfur</text>
<text class="b" x="217.60" y="782.10" font-size="14.8" textLength="91.17" lengthAdjust="spacingAndGlyphs" fill="#000">M1109+NaHS</text>
<g transform="translate(17,715.9) rotate(-90)"><text class="b" x="-1.59" y="0.00" font-size="22.2" textLength="153.84" lengthAdjust="spacingAndGlyphs" fill="#000">Fold of control</text></g>
<text class="b" x="33.27" y="511.80" font-size="29" textLength="20.02" lengthAdjust="spacingAndGlyphs" fill="#000">d</text>
<text class="bi" x="106.40" y="566.55" font-size="20.8" textLength="49.43" lengthAdjust="spacingAndGlyphs" fill="#000">nreC</text>
<text class="an" x="117.40" y="678.25" font-size="10.6" textLength="7.61" lengthAdjust="spacingAndGlyphs" fill="#231815">a</text>
<text class="b" x="148.15" y="713.00" font-size="11" textLength="12.57" lengthAdjust="spacingAndGlyphs" fill="#000">ns</text>
<text class="b" x="177.60" y="716.10" font-size="11" textLength="12.51" lengthAdjust="spacingAndGlyphs" fill="#000">ns</text>
<text class="an" x="204.80" y="668.00" font-size="10.6" textLength="24.07" lengthAdjust="spacingAndGlyphs" fill="#231815">aaa</text>
<text class="b" x="239.50" y="690.20" font-size="11" textLength="13.42" lengthAdjust="spacingAndGlyphs" fill="#000">ns</text>
<text class="b" x="272.40" y="662.70" font-size="11" textLength="13.12" lengthAdjust="spacingAndGlyphs" fill="#000">ns</text>
<text class="an" x="306.30" y="695.60" font-size="10.6" textLength="8.25" lengthAdjust="spacingAndGlyphs" fill="#231815">b</text>
<text class="b" x="383.50" y="563.30" font-size="14.5" textLength="25.87" lengthAdjust="spacingAndGlyphs" fill="#000">500</text>
<text class="b" x="383.50" y="598.34" font-size="14.5" textLength="25.87" lengthAdjust="spacingAndGlyphs" fill="#000">400</text>
<text class="b" x="383.50" y="633.38" font-size="14.5" textLength="25.87" lengthAdjust="spacingAndGlyphs" fill="#000">300</text>
<text class="b" x="383.50" y="668.42" font-size="14.5" textLength="25.87" lengthAdjust="spacingAndGlyphs" fill="#000">200</text>
<text class="b" x="383.50" y="703.46" font-size="14.5" textLength="25.87" lengthAdjust="spacingAndGlyphs" fill="#000">100</text>
<text class="b" x="393.15" y="736.00" font-size="14.5" textLength="8.52" lengthAdjust="spacingAndGlyphs" fill="#000">0</text>
<text class="b" x="436.45" y="751.70" font-size="15.5" textLength="8.62" lengthAdjust="spacingAndGlyphs" fill="#000">0</text>
<text class="b" x="466.85" y="751.70" font-size="15.5" textLength="8.62" lengthAdjust="spacingAndGlyphs" fill="#000">2</text>
<text class="b" x="493.34" y="751.70" font-size="15.5" textLength="17.24" lengthAdjust="spacingAndGlyphs" fill="#000">10</text>
<text class="b" x="525.74" y="751.70" font-size="15.5" textLength="17.24" lengthAdjust="spacingAndGlyphs" fill="#000">30</text>
<text class="b" x="562.25" y="751.70" font-size="15.5" textLength="8.62" lengthAdjust="spacingAndGlyphs" fill="#000">0</text>
<text class="b" x="593.25" y="751.70" font-size="15.5" textLength="8.62" lengthAdjust="spacingAndGlyphs" fill="#000">2</text>
<text class="b" x="619.94" y="751.70" font-size="15.5" textLength="17.24" lengthAdjust="spacingAndGlyphs" fill="#000">10</text>
<text class="b" x="650.64" y="751.70" font-size="15.5" textLength="17.24" lengthAdjust="spacingAndGlyphs" fill="#000">30</text>
<text class="b" x="364.40" y="751.25" font-size="15.5" textLength="69.35" lengthAdjust="spacingAndGlyphs" fill="#000">Time(min)</text>
<text class="b" x="393.65" y="780.70" font-size="14.8" textLength="154.91" lengthAdjust="spacingAndGlyphs" fill="#000">MW3+Elemental sulfur</text>
<text class="b" x="568.30" y="780.70" font-size="14.8" textLength="92.37" lengthAdjust="spacingAndGlyphs" fill="#000">M1109+NaHS</text>
<g transform="translate(369.25,716.4) rotate(-90)"><text class="b" x="-1.59" y="0.00" font-size="22.2" textLength="153.84" lengthAdjust="spacingAndGlyphs" fill="#000">Fold of control</text></g>
<text class="b" x="386.00" y="511.90" font-size="29" textLength="16.13" lengthAdjust="spacingAndGlyphs" fill="#000">e</text>
<text class="bi" x="457.40" y="567.30" font-size="20.8" textLength="34.19" lengthAdjust="spacingAndGlyphs" fill="#000">sqr</text>
<text class="b" x="466.15" y="728.00" font-size="11" textLength="13.32" lengthAdjust="spacingAndGlyphs" fill="#000">ns</text>
<text class="an" x="496.20" y="722.00" font-size="10.6" textLength="16.27" lengthAdjust="spacingAndGlyphs" fill="#231815">aa</text>
<text class="an" x="522.80" y="706.50" font-size="10.6" textLength="24.27" lengthAdjust="spacingAndGlyphs" fill="#231815">aaa</text>
<text class="an" x="554.40" y="714.20" font-size="10.6" textLength="24.57" lengthAdjust="spacingAndGlyphs" fill="#231815">aaa</text>
<text class="b" x="590.90" y="679.30" font-size="11" textLength="13.73" lengthAdjust="spacingAndGlyphs" fill="#000">ns</text>
<text class="an" x="615.70" y="563.80" font-size="10.6" textLength="26.12" lengthAdjust="spacingAndGlyphs" fill="#231815">bbb</text>
<text class="an" x="651.90" y="611.80" font-size="10.6" textLength="17.13" lengthAdjust="spacingAndGlyphs" fill="#231815">bb</text>
</g>
</svg>
</body></html>
